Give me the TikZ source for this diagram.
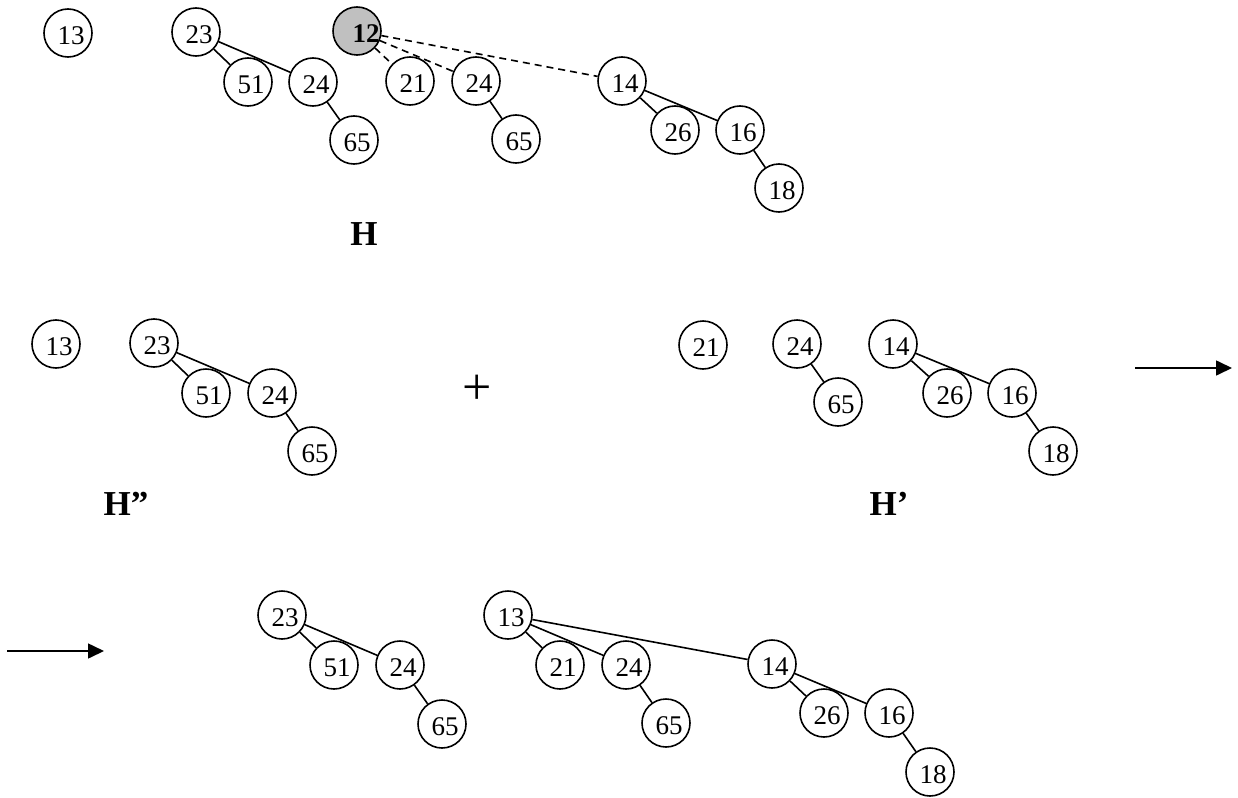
\documentclass[tikz,border=0pt]{standalone}
\usepackage{fontspec}
\setmainfont{Liberation Serif}
\usetikzlibrary{arrows.meta}
\definecolor{shade}{RGB}{192,192,192}
\begin{document}
\begin{tikzpicture}[x=1pt,y=-1pt,
  vtx/.style={circle,draw,line width=1.6pt,minimum size=48pt,inner sep=0pt},
  num/.style={font=\fontsize{27}{30}\selectfont,xshift=3pt,yshift=-2.5pt,inner sep=0pt},
  bnum/.style={num,font=\fontsize{27}{30}\selectfont\bfseries,xshift=6pt},
  edge/.style={line width=1.6pt},
  dedge/.style={line width=1.6pt,dash pattern=on 7pt off 5pt},
  ttl/.style={font=\fontsize{35}{40}\selectfont\bfseries,inner sep=0pt},
  arr/.style={line width=1.6pt,-{Triangle[length=16pt,width=15pt]}}]
\useasboundingbox (0,0) rectangle (1238,797);

% ---------- top row: H ----------
\node[vtx,label={[num]center:13}] (t13) at (68,33) {};
\node[vtx,label={[num]center:23}] (t23) at (196,32) {};
\node[vtx,label={[num]center:51}] (t51) at (248,82) {};
\node[vtx,label={[num]center:24}] (t24) at (313,82) {};
\node[vtx,label={[num]center:65}] (t65) at (354,140) {};
\node[vtx,fill=shade,label={[bnum]center:12}] (t12) at (357,31) {};
\node[vtx,label={[num]center:21}] (t21) at (410,81) {};
\node[vtx,label={[num]center:24}] (t24b) at (476,81) {};
\node[vtx,label={[num]center:65}] (t65b) at (516,139) {};
\node[vtx,label={[num]center:14}] (t14) at (622,81) {};
\node[vtx,label={[num]center:26}] (t26) at (675,130) {};
\node[vtx,label={[num]center:16}] (t16) at (740,130) {};
\node[vtx,label={[num]center:18}] (t18) at (779,188) {};
\draw[edge] (t23) -- (t51);
\draw[edge] (t23) -- (t24);
\draw[edge] (t24) -- (t65);
\draw[dedge] (t12) -- (t21);
\draw[dedge] (t12) -- (t24b);
\draw[dedge] (t12) -- (t14);
\draw[edge] (t24b) -- (t65b);
\draw[edge] (t14) -- (t26);
\draw[edge] (t14) -- (t16);
\draw[edge] (t16) -- (t18);
\node[ttl] (lH) at (364,234) {H};

% ---------- middle row: H'' + H' ----------
\node[vtx,label={[num]center:13}] (m13) at (56,344) {};
\node[vtx,label={[num]center:23}] (m23) at (154,343) {};
\node[vtx,label={[num]center:51}] (m51) at (206,393) {};
\node[vtx,label={[num]center:24}] (m24) at (272,393) {};
\node[vtx,label={[num]center:65}] (m65) at (312,451) {};
\draw[edge] (m23) -- (m51);
\draw[edge] (m23) -- (m24);
\draw[edge] (m24) -- (m65);
\node[font=\fontsize{52}{56}\selectfont,inner sep=0pt] (plus) at (477,390) {+};
\node[vtx,label={[num]center:21}] (m21) at (703,345) {};
\node[vtx,label={[num]center:24}] (m24b) at (797,344) {};
\node[vtx,label={[num]center:65}] (m65b) at (838,402) {};
\node[vtx,label={[num]center:14}] (m14) at (893,344) {};
\node[vtx,label={[num]center:26}] (m26) at (947,393) {};
\node[vtx,label={[num]center:16}] (m16) at (1012,393) {};
\node[vtx,label={[num]center:18}] (m18) at (1053,451) {};
\draw[edge] (m24b) -- (m65b);
\draw[edge] (m14) -- (m26);
\draw[edge] (m14) -- (m16);
\draw[edge] (m16) -- (m18);
\coordinate (a1s) at (1135,368);
\coordinate (a1e) at (1232,368);
\draw[arr] (a1s) -- (a1e);
\node[ttl] (lH2) at (126,504) {H”};
\node[ttl] (lH1) at (889,504) {H’};

% ---------- bottom row ----------
\coordinate (a2s) at (7,651);
\coordinate (a2e) at (104,651);
\draw[arr] (a2s) -- (a2e);
\node[vtx,label={[num]center:23}] (b23) at (282,615) {};
\node[vtx,label={[num]center:51}] (b51) at (334,665) {};
\node[vtx,label={[num]center:24}] (b24) at (400,665) {};
\node[vtx,label={[num]center:65}] (b65) at (442,724) {};
\draw[edge] (b23) -- (b51);
\draw[edge] (b23) -- (b24);
\draw[edge] (b24) -- (b65);
\node[vtx,label={[num]center:13}] (b13) at (508,615) {};
\node[vtx,label={[num]center:21}] (b21) at (560,665) {};
\node[vtx,label={[num]center:24}] (b24b) at (626,665) {};
\node[vtx,label={[num]center:65}] (b65b) at (666,723) {};
\node[vtx,label={[num]center:14}] (b14) at (772,664) {};
\node[vtx,label={[num]center:26}] (b26) at (824,713) {};
\node[vtx,label={[num]center:16}] (b16) at (889,713) {};
\node[vtx,label={[num]center:18}] (b18) at (930,772) {};
\draw[edge] (b13) -- (b21);
\draw[edge] (b13) -- (b24b);
\draw[edge] (b13) -- (b14);
\draw[edge] (b24b) -- (b65b);
\draw[edge] (b14) -- (b26);
\draw[edge] (b14) -- (b16);
\draw[edge] (b16) -- (b18);
\end{tikzpicture}
\end{document}
